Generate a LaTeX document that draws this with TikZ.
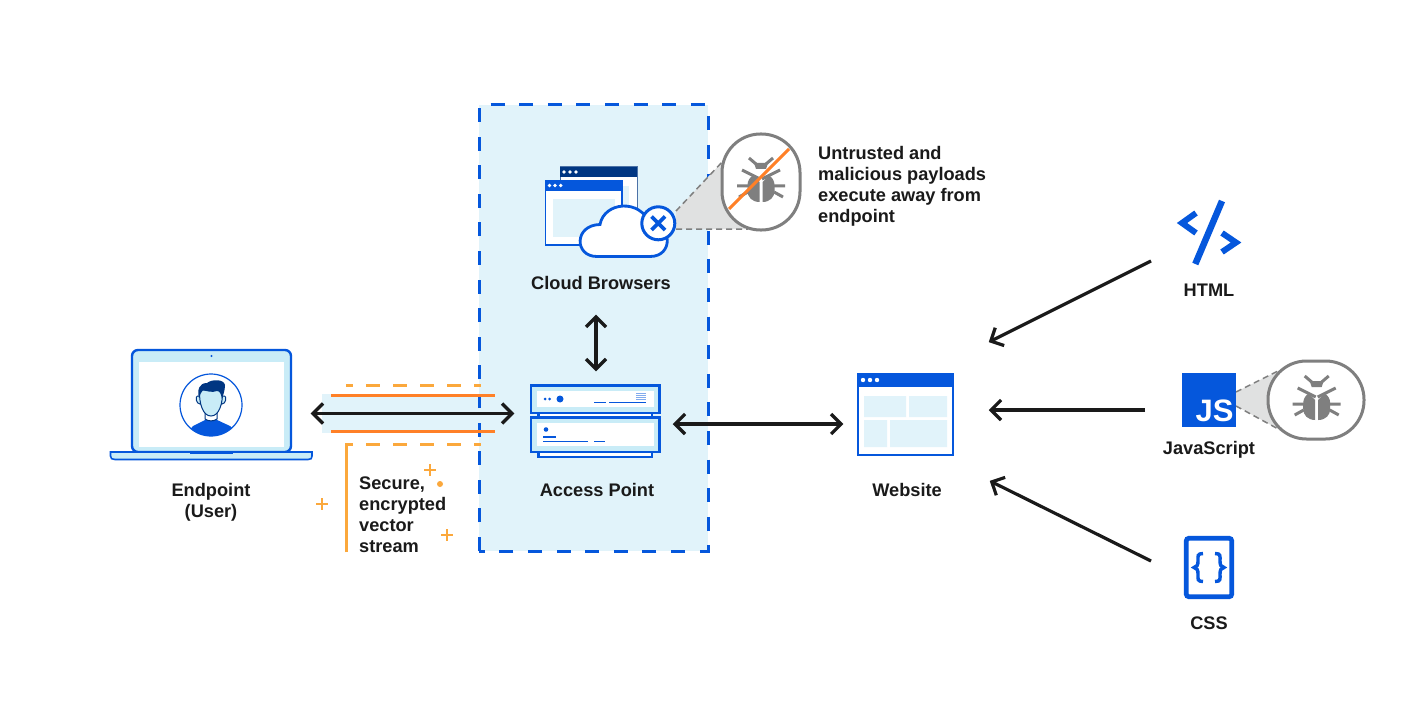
\documentclass[tikz,border=0pt]{standalone}
\usepackage{fontspec}
\setmainfont{Liberation Sans}
\usetikzlibrary{arrows.meta}
\definecolor{ablue}{HTML}{0557DC}
\definecolor{navy}{HTML}{003682}
\definecolor{pale}{HTML}{E1F3FA}
\definecolor{sky}{HTML}{C9ECF7}
\definecolor{ink}{HTML}{1A1A1A}
\definecolor{orangeA}{HTML}{FF8027}
\definecolor{orangeB}{HTML}{FBA83C}
\definecolor{bugg}{HTML}{7F7F7F}
\definecolor{wedge}{HTML}{E0E1E1}
\pgfdeclarearrow{
 name=Chev,
 setup code={\pgfarrowssettipend{2pt}\pgfarrowssetbackend{-10pt}\pgfarrowssetlineend{0pt}\pgfarrowssetvisualbackend{-1pt}},
 drawing code={\pgfsetdash{}{0pt}\pgfsetmiterjoin
  \pgfpathmoveto{\pgfqpoint{-10pt}{10pt}}\pgfpathlineto{\pgfqpoint{0pt}{0pt}}\pgfpathlineto{\pgfqpoint{-10pt}{-10pt}}\pgfusepathqstroke}
}
\tikzset{
 lab/.style={font=\bfseries\fontsize{18.2}{21}\selectfont,text=ink,inner sep=0pt,align=center},
 labl/.style={lab,align=left,anchor=north west},
 link/.style={draw=ink,line width=3.2pt,{Chev}-{Chev}},
 oneway/.style={draw=ink,line width=3.2pt,-{Chev}},
 bl/.style={draw=ablue,line width=2.4pt},
 wedgeedge/.style={draw=bugg,line width=1.5pt,dash pattern=on 6pt off 4pt},
 pill/.style={draw=bugg,line width=3pt,fill=white},
 plusmark/.style={draw=orangeB,line width=2.7pt},
 bug/.pic={
  \fill[bugg] (-7,-19)--(7,-19)--(5,-13)--(-5,-13)--cycle;
  \draw[bugg,line width=3pt] (-12,-24)--(-5,-18) (12,-24)--(5,-18)
    (-19,-12)--(-1,-3) (19,-12)--(1,-3)
    (-24,4)--(-13,4) (24,4)--(13,4) (-22,15)--(-13,10) (22,15)--(13,10);
  \fill[bugg] (-1.5,0)--(-1.5,20) .. controls (-9,20) and (-13.5,15) .. (-13.5,9)--(-13.5,3) .. controls (-13.5,-1) and (-11,-5) .. (-8,-6.5)--cycle;
  \fill[bugg] (1.5,0)--(1.5,20) .. controls (9,20) and (13.5,15) .. (13.5,9)--(13.5,3) .. controls (13.5,-1) and (11,-5) .. (8,-6.5)--cycle;
 }
}
\begin{document}
\begin{tikzpicture}[x=1pt,y=-1pt]
\useasboundingbox[fill=white] (0,0) rectangle (1418,722);
% isolation zone
\fill[pale] (479,105) rectangle (708,551);
\fill[pale] (322,394) rectangle (480,433);
\draw[ablue,line width=3pt,dash pattern=on 14pt off 14.6pt] (479,551)--(479,105)--(708,105)--(708,551)--cycle;
% tunnel
\draw[orangeB,line width=3pt,dash pattern=on 14pt off 13pt,dash phase=7pt] (346,385)--(481,385);
\draw[orangeA,line width=2.8pt] (331,395.7)--(495,395.7) (331,431.7)--(495,431.7);
\draw[orangeB,line width=3pt,dash pattern=on 14pt off 13pt,dash phase=7pt] (346,444)--(481,444);
\draw[orangeB,line width=3pt] (346,552)--(346,442.5);
\foreach \px/\py in {430/470,322/504,447/535}
 \draw[plusmark] (\px-6,\py)--(\px+6,\py) (\px,\py-6)--(\px,\py+6);
\fill[orangeB] (440,484) circle (3);
\node[labl] (streamlabel) at (359,476.5) {Secure,\\encrypted\\vector\\stream};
% laptop
\draw[bl,fill=sky,rounded corners=6pt] (132,452)--(132,350)--(291,350)--(291,452)--cycle;
\fill[white] (139,362) rectangle (284,447);
\fill[ablue] (211.5,356) circle (1.2);
\begin{scope}
 \clip (211,405) circle (31);
 \fill[ablue] (188,432)--(193,426)--(206,419.5)--(216,419.5)--(230,426)--(236,432)--(236,440)--(188,440)--cycle;
\end{scope}
\draw[navy,line width=1pt,fill=white] (205,412)--(205,419) .. controls (208,421.5) and (214,421.5) .. (217,419)--(217,412)--cycle;
\draw[navy,line width=1pt,fill=sky] (197.5,396) .. controls (195,396) and (196,404) .. (200,404)--(222,404) .. controls (226,404) and (227,396) .. (224.5,396)--cycle;
\draw[navy,line width=1pt,fill=sky] (199.5,390) .. controls (199,404) and (203,416) .. (211,416) .. controls (219,416) and (223,404) .. (222.5,390)--cycle;
\fill[navy] (199,398) .. controls (197,390) and (199,383) .. (207,383) .. controls (212,379) and (224,379) .. (225,385) .. controls (225,391) and (223,395) .. (222,399) .. controls (221,394) and (220,391) .. (217,391) .. controls (212,393) and (206,391) .. (203,390) .. controls (201,392) and (200,395) .. (199,398)--cycle;
\draw[ablue,line width=1.2pt] (211,405) circle (31);
\draw[bl,fill=sky,line width=1.6pt] (110.5,452)--(312,452)--(312,456) .. controls (312,458.5) and (311,459.5) .. (308,459.5)--(115,459.5) .. controls (112,459.5) and (110.5,458.5) .. (110.5,456)--cycle;
\fill[ablue] (190,451.5) rectangle (233,454);
\node[lab] (endpoint) at (211,502) {Endpoint\\(User)};
% cloud browsers
\draw[draw=navy!70,line width=1pt,fill=white] (560,167) rectangle (637,240);
\fill[navy] (560,167) rectangle (637,177);
\fill[pale] (622,186) rectangle (629,230);
\foreach \dx in {564,570,576} \fill[white] (\dx,172) circle (1.8);
\draw[ablue,line width=1.8pt,fill=white] (545.5,180.5) rectangle (622,245);
\fill[ablue] (545,180) rectangle (622,191);
\fill[pale] (553,199) rectangle (615,237);
\foreach \dx in {549.5,555,560.7} \fill[white] (\dx,185.5) circle (1.8);
\draw[bl,fill=white,line width=2.8pt] (597,256.5) .. controls (574,256.5) and (574,225) .. (600,224.5) .. controls (604,202) and (640,198) .. (650,224) .. controls (672,224) and (674,256.5) .. (650,256.5)--cycle;
% callout one
\fill[wedge] (676,211)--(724,160)--(745,229)--(676,229)--cycle;
\draw[wedgeedge] (676,211)--(724,160) (676,229)--(748,229);
\node[draw=ablue,line width=3pt,fill=white,circle,minimum size=33pt,inner sep=0pt] (blocked) at (658.3,223.3) {};
\draw[ablue,line width=3.6pt] (651.5,216.5)--(665,230) (665,216.5)--(651.5,230);
\draw[pill,rounded corners=38.5pt] (722,134) rectangle (800,230);
\pic at (761,182) {bug};
\draw[orangeA,line width=3pt] (729,209)--(789,149);
\node[lab] (cloudlabel) at (601,283) {Cloud Browsers};
\node[labl] (untrusted) at (818,146.5) {Untrusted and\\malicious payloads\\execute away from\\endpoint};
% access point
\draw[bl,fill=white] (538.5,412)rectangle(652,418);
\draw[bl,fill=white] (538.5,451)rectangle(652,457);
\draw[bl,fill=sky] (531,385.5) rectangle (659.5,412.7);
\fill[white] (537,391) rectangle (654,407);
\draw[bl,fill=sky] (531,417.5) rectangle (659.5,451.7);
\fill[white] (537,423) rectangle (654,446);
\fill[ablue] (545,399) circle (1.5) (549.5,399) circle (1.5) (560,399) circle (3.5) (546,429.5) circle (2.3);
\draw[ablue,line width=1.9pt] (594,402.5)--(606,402.5) (609,402.5)--(646,402.5) (543,437)--(556,437) (543,441.5)--(588,441.5) (594,441.5)--(605,441.5);
\foreach \sy in {393,395,397,399} \draw[ablue!50,line width=1pt] (636,\sy)--(646,\sy);
\node[lab] (aplabel) at (597,490) {Access Point};
% website
\draw[bl,fill=white] (858,374.5) rectangle (953,455);
\fill[ablue] (857,373.5) rectangle (954,387);
\foreach \dx in {863,870,877} \fill[white] (\dx,380) circle (2.2);
\fill[pale] (864,396) rectangle (906,417) (909,396) rectangle (947,417) (864,420) rectangle (887,447) (890,420) rectangle (947,447);
\node[lab] (weblabel) at (907,490) {Website};
% HTML icon
\draw[ablue,line width=6pt] (1196,213)--(1182,223)--(1196,233) (1222,233)--(1236,242.5)--(1222,252);
\draw[ablue,line width=6.5pt] (1222,201)--(1195.3,264);
\node[lab] (htmllabel) at (1209,290) {HTML};
% JS icon
\fill[wedge] (1236,392)--(1280,370)--(1280,430)--(1236,406)--cycle;
\draw[wedgeedge] (1236,392)--(1280,370) (1236,406)--(1280,430);
\node[fill=ablue,minimum size=54pt,inner sep=0pt] (jsicon) at (1209,400) {};
\node[font=\bfseries\fontsize{31}{31}\selectfont,text=white,inner sep=0pt,anchor=base] (jstext) at (1214.5,421.5) {JS};
\draw[pill,rounded corners=38.5pt] (1268,361) rectangle (1364,439);
\pic at (1316.7,400) {bug};
\node[lab] (jslabel) at (1209,450) {JavaScript};
% CSS icon
\draw[ablue,line width=4.7pt,rounded corners=2.5pt] (1186.3,538.3) rectangle (1231.7,596.7);
\draw[ablue,line width=3.4pt] (1203,553.5) .. controls (1197,553.5) and (1198,556) .. (1198,561) .. controls (1198,565) and (1197,567) .. (1194,567.5) .. controls (1197,568) and (1198,570) .. (1198,574) .. controls (1198,579) and (1197,581.5) .. (1203,581.5);
\draw[ablue,line width=3.4pt] (1215,553.5) .. controls (1221,553.5) and (1220,556) .. (1220,561) .. controls (1220,565) and (1221,567) .. (1224,567.5) .. controls (1221,568) and (1220,570) .. (1220,574) .. controls (1220,579) and (1221,581.5) .. (1215,581.5);
\node[lab] (csslabel) at (1209,623) {CSS};
% connectors
\coordinate (tunnelL) at (311,413.5);
\coordinate (tunnelR) at (514,413.5);
\coordinate (cloudS) at (596,315);
\coordinate (apN) at (596,371);
\coordinate (apE) at (673,424);
\coordinate (webW) at (843,424);
\coordinate (htmlS) at (1151,261);
\coordinate (webNE) at (989,342);
\coordinate (jsW) at (1145,410);
\coordinate (webE) at (989,410);
\coordinate (cssW) at (1151,561);
\coordinate (webSE) at (990,481);
\draw[link] (tunnelL)--(tunnelR);
\draw[link] (cloudS)--(apN);
\draw[link] (apE)--(webW);
\draw[oneway] (htmlS)--(webNE);
\draw[oneway] (jsW)--(webE);
\draw[oneway] (cssW)--(webSE);
\end{tikzpicture}
\end{document}
